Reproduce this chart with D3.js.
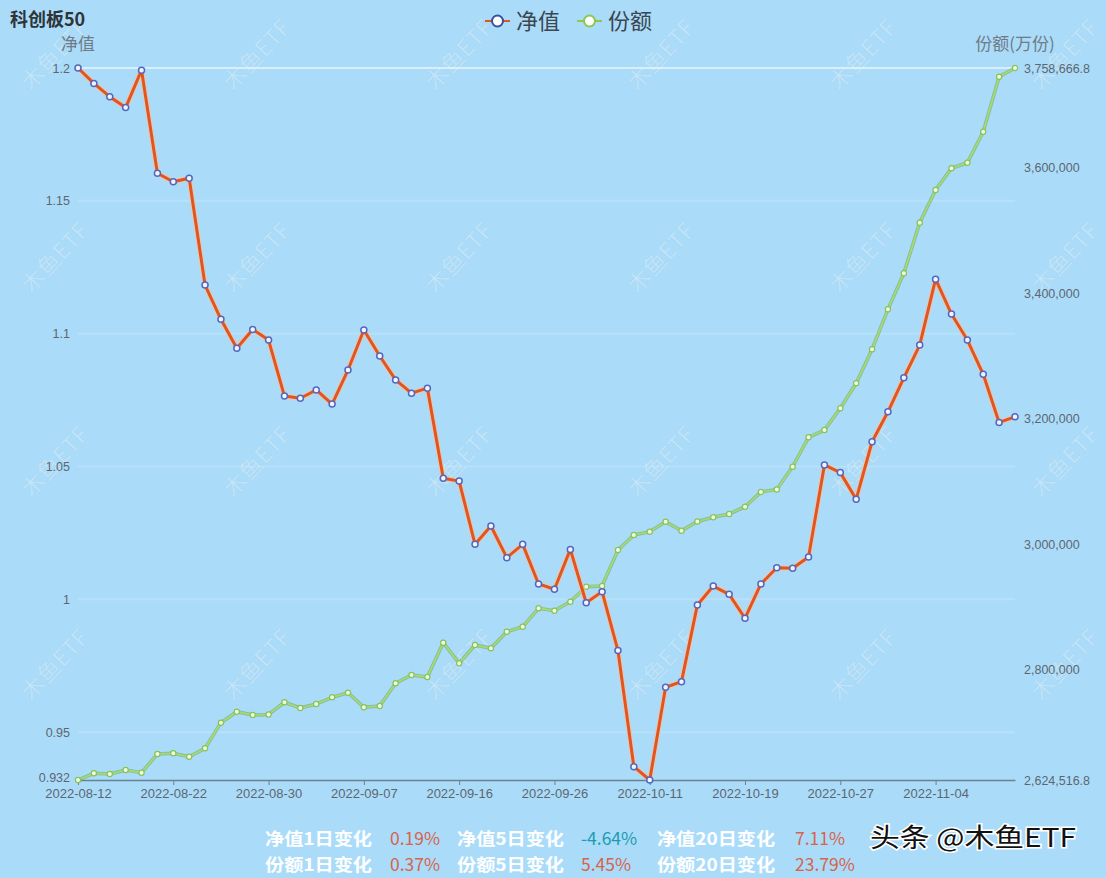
<!DOCTYPE html>
<html>
<head>
<meta charset="utf-8">
<script src="https://cdn.jsdelivr.net/npm/d3@7"></script>
<style>
  body { margin: 0; background: #aadcfa; }
  svg { display: block; font-family: "Noto Sans CJK SC", "Noto Sans", sans-serif; }
</style>
</head>
<body>
<div id="chart"></div>
<script>
// trading days, 2022
var dates = ["2022-08-12","2022-08-15","2022-08-16","2022-08-17","2022-08-18","2022-08-19",
  "2022-08-22","2022-08-23","2022-08-24","2022-08-25","2022-08-26","2022-08-29",
  "2022-08-30","2022-08-31","2022-09-01","2022-09-02","2022-09-05","2022-09-06",
  "2022-09-07","2022-09-08","2022-09-09","2022-09-13","2022-09-14","2022-09-15",
  "2022-09-16","2022-09-19","2022-09-20","2022-09-21","2022-09-22","2022-09-23",
  "2022-09-26","2022-09-27","2022-09-28","2022-09-29","2022-09-30","2022-10-10",
  "2022-10-11","2022-10-12","2022-10-13","2022-10-14","2022-10-17","2022-10-18",
  "2022-10-19","2022-10-20","2022-10-21","2022-10-24","2022-10-25","2022-10-26",
  "2022-10-27","2022-10-28","2022-10-31","2022-11-01","2022-11-02","2022-11-03",
  "2022-11-04","2022-11-07","2022-11-08","2022-11-09","2022-11-10","2022-11-11"];

// 净值
var navValues = [1.2000,1.1942,1.1892,1.1851,1.1992,1.1604,1.1572,1.1585,1.1183,1.1054,
  1.0945,1.1016,1.0976,1.0765,1.0757,1.0788,1.0735,1.0863,1.1014,1.0916,
  1.0826,1.0776,1.0795,1.0456,1.0445,1.0207,1.0276,1.0157,1.0207,1.0058,
  1.0038,1.0188,0.9987,1.0029,0.9807,0.9370,0.9320,0.9669,0.9690,0.9979,
  1.0050,1.0019,0.9929,1.0058,1.0119,1.0117,1.0159,1.0506,1.0477,1.0377,
  1.0593,1.0706,1.0834,1.0957,1.1205,1.1074,1.0976,1.0847,1.0666,1.0687];

// 份额(万份)
var shareValues = [2624516.8,2635189,2634074,2640446,2636145,2665932,2667047,2661632,2675012,2715790,
  2733312,2728056,2728900,2748285,2739206,2745577,2756250,2763577,2740321,2742392,
  2778550,2791771,2788586,2843222,2810408,2839559,2834302,2860744,2868708,2898018,
  2894195,2908531,2932424,2933600,2990884,3014777,3020034,3035963,3021627,3036325,
  3042972,3048228,3059856,3083272,3087254,3123573,3170405,3182032,3216597,3256420,
  3310578,3374295,3431639,3512232,3564407,3598887,3607807,3657186,3744810,3758666.8];

var leftTicks = [0.932, 0.95, 1, 1.05, 1.1, 1.15, 1.2];
var rightTicks = [2624516.8, 2800000, 3000000, 3200000, 3400000, 3600000, 3758666.8];
var xTickEvery = 6;

var seriesNames = ["净值", "份额"];
var statLabels = [["净值1日变化", "净值5日变化", "净值20日变化"],
                  ["份额1日变化", "份额5日变化", "份额20日变化"]];
var statValues = [["0.19%", "-4.64%", "7.11%"],
                  ["0.37%", "5.45%", "23.79%"]];

var width = 1106, height = 878;
var margin = {left: 78, right: 1015, top: 68, bottom: 780};

var svg = d3.select("#chart").append("svg")
    .attr("width", width)
    .attr("height", height);

svg.append("rect").attr("width", width).attr("height", height).attr("fill", "#aadcfa");

// watermark
var wmX = [55, 257, 459, 661, 863, 1065], wmY = [55, 258, 462, 665];
wmY.forEach(function(wy) {
  wmX.forEach(function(wx) {
    svg.append("text")
      .attr("transform", "translate(" + wx + "," + wy + ") rotate(-47)")
      .attr("text-anchor", "middle")
      .attr("dy", "0.35em")
      .style("font-size", "23px")
      .style("fill", "rgba(255,255,255,0.3)")
      .style("stroke", "rgba(120,150,170,0.15)")
      .style("stroke-width", 0.6)
      .text("木鱼ETF");
  });
});

var x = d3.scalePoint().domain(dates).range([margin.left, margin.right]);
var yL = d3.scaleLinear().domain([leftTicks[0], leftTicks[leftTicks.length - 1]]).range([margin.bottom, margin.top]);
var yR = d3.scaleLinear().domain([rightTicks[0], rightTicks[rightTicks.length - 1]]).range([margin.bottom, margin.top]);

// grid lines
svg.append("g").selectAll("line")
  .data(leftTicks.slice(1))
  .enter().append("line")
    .attr("x1", margin.left).attr("x2", margin.right)
    .attr("y1", function(d) { return yL(d); })
    .attr("y2", function(d) { return yL(d); })
    .style("stroke", function(d, i) { return i == leftTicks.length - 2 ? "rgba(255,255,255,0.55)" : "rgba(255,255,255,0.16)"; })
    .style("stroke-width", 2);

// x axis
var xAxis = svg.append("g")
  .attr("transform", "translate(0," + margin.bottom + ")")
  .call(d3.axisBottom(x)
    .tickValues(dates.filter(function(d, i) { return i % xTickEvery == 0; }))
    .tickSize(5).tickSizeOuter(0).tickPadding(4));
xAxis.select(".domain").style("stroke", "#6e7f8f").style("stroke-width", 1.3);
xAxis.selectAll(".tick line").style("stroke", "#6e7f8f");
xAxis.selectAll("text").style("font-size", "13px").style("fill", "#5d6670");

// left axis
var yAxisL = svg.append("g")
  .attr("transform", "translate(" + (margin.left - 8) + ",0)")
  .call(d3.axisLeft(yL).tickValues(leftTicks).tickSize(0).tickPadding(0)
    .tickFormat(function(d) { return String(d); }));
yAxisL.select(".domain").remove();
yAxisL.selectAll("text").style("font-size", "12.5px").style("fill", "#5d6670");
yAxisL.selectAll("text").filter(function(d) { return d == leftTicks[0]; }).attr("dy", "0.1em");

// right axis
var yAxisR = svg.append("g")
  .attr("transform", "translate(" + (margin.right + 9) + ",0)")
  .call(d3.axisRight(yR).tickValues(rightTicks).tickSize(0).tickPadding(0)
    .tickFormat(function(d) { return Number.isInteger(d) ? d3.format(",")(d) : d3.format(",.1f")(d); }));
yAxisR.select(".domain").remove();
yAxisR.selectAll("text").style("font-size", "12.5px").style("fill", "#5d6670");

// axis names
svg.append("text").attr("x", margin.left).attr("y", 50).attr("text-anchor", "middle")
  .style("font-size", "17px").style("fill", "#6f7b85").text("净值");
svg.append("text").attr("x", margin.right).attr("y", 50).attr("text-anchor", "middle")
  .style("font-size", "17px").style("fill", "#6f7b85").text("份额(万份)");

// title
svg.append("text").attr("x", 10).attr("y", 26)
  .style("font-size", "18px").style("font-weight", "bold").style("fill", "#2f3438")
  .text("科创板50");

// share line (right axis)
var shareLine = d3.line()
  .x(function(d, i) { return x(dates[i]); })
  .y(function(d) { return yR(d); });
svg.append("path").datum(shareValues)
  .attr("d", shareLine)
  .style("fill", "none").style("stroke", "#5e9e3c").style("stroke-width", 3.5).style("opacity", 0.5);
svg.append("path").datum(shareValues)
  .attr("d", shareLine)
  .style("fill", "none").style("stroke", "#a6da6e").style("stroke-width", 1.8);
svg.append("g").selectAll("circle")
  .data(shareValues)
  .enter().append("circle")
    .attr("cx", function(d, i) { return x(dates[i]); })
    .attr("cy", function(d) { return yR(d); })
    .attr("r", 2.6)
    .style("fill", "#f4fbe8")
    .style("stroke", "#86c453")
    .style("stroke-width", 1.2);

// nav line (left axis)
var navLine = d3.line()
  .x(function(d, i) { return x(dates[i]); })
  .y(function(d) { return yL(d); });
svg.append("path").datum(navValues)
  .attr("d", navLine)
  .style("fill", "none").style("stroke", "rgba(255,190,150,0.6)").style("stroke-width", 5.5)
  .style("stroke-linejoin", "round");
svg.append("path").datum(navValues)
  .attr("d", navLine)
  .style("fill", "none").style("stroke", "#e2551f").style("stroke-width", 3)
  .style("stroke-linejoin", "round");
svg.append("g").selectAll("circle")
  .data(navValues)
  .enter().append("circle")
    .attr("cx", function(d, i) { return x(dates[i]); })
    .attr("cy", function(d) { return yL(d); })
    .attr("r", 3)
    .style("fill", "#f2f5ff")
    .style("stroke", "#5268c0")
    .style("stroke-width", 1.5);

// legend
var legendColors = [["#e2551f", "#3b4fa0"], ["#8cc84b", "#8cc84b"]];
var legendX = [485, 577];
seriesNames.forEach(function(name, i) {
  var g = svg.append("g").attr("transform", "translate(" + legendX[i] + ",21)");
  g.append("line").attr("x1", 0).attr("x2", 25).attr("y1", 0).attr("y2", 0)
    .style("stroke", legendColors[i][0]).style("stroke-width", 2);
  g.append("circle").attr("cx", 12.5).attr("cy", 0).attr("r", 5.5)
    .style("fill", "#fff").style("stroke", legendColors[i][1]).style("stroke-width", 2);
  g.append("text").attr("x", 31).attr("y", 0).attr("dy", "0.35em")
    .style("font-size", "22px").style("fill", "#3c4650").text(name);
});

// stats block
var labelX = [265, 457, 657], labelW = [107, 107, 118];
var valueX = [390, 581, 795], rowY = [839, 865];
statLabels.forEach(function(row, r) {
  row.forEach(function(lab, c) {
    svg.append("text").attr("x", labelX[c]).attr("y", rowY[r]).attr("dy", "0.35em")
      .attr("textLength", labelW[c]).attr("lengthAdjust", "spacingAndGlyphs")
      .style("font-size", "17.5px").style("font-weight", "bold").style("fill", "#ffffff")
      .text(lab);
    var v = statValues[r][c];
    svg.append("text").attr("x", valueX[c]).attr("y", rowY[r]).attr("dy", "0.35em")
      .style("font-size", "17.5px")
      .style("fill", v.charAt(0) == "-" ? "#1d9bb0" : "#d8634a")
      .text(v);
  });
});

// source mark
svg.append("text").attr("x", 870).attr("y", 838).attr("dy", "0.35em")
  .attr("textLength", 206).attr("lengthAdjust", "spacingAndGlyphs")
  .style("font-size", "26px").style("fill", "#111")
  .style("stroke", "#fff").style("stroke-width", 3).style("paint-order", "stroke")
  .text("头条 @木鱼ETF");
</script>
</body>
</html>
